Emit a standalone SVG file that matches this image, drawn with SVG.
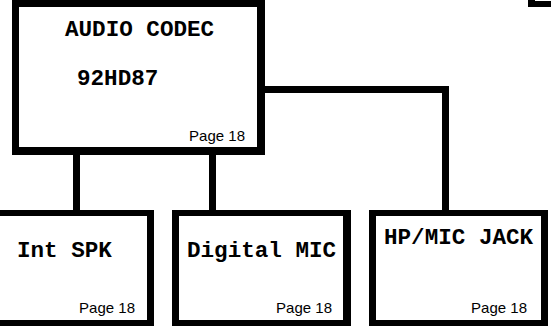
<svg xmlns="http://www.w3.org/2000/svg" width="551" height="326" viewBox="0 0 551 326">
<style>
.outer{fill:#000}
.inner{fill:#fff}
.t{font-family:"Liberation Mono","Courier New",monospace;font-weight:bold;font-size:22.6px;fill:#000}
.p{font-family:"Liberation Sans",Arial,sans-serif;font-size:15px;fill:#000;text-anchor:end}
.c{fill:none;stroke:#000;stroke-width:7}
</style>
<g id="connectors">
<path class="c" d="M76.5 155V211"/>
<path class="c" d="M212.5 155V211"/>
<path class="c" d="M264 89.5H445.5V211"/>
</g>
<g id="corner-box">
<rect class="outer" x="528" y="-100" width="40" height="107"/>
<rect class="inner" x="535" y="-100" width="40" height="101"/>
</g>
<g id="audio-codec">
<rect class="outer" x="12" y="-2" width="253" height="157"/>
<rect class="inner" x="19" y="7" width="238" height="140"/>
<text class="t" x="65" y="36">AUDIO CODEC</text>
<text class="t" x="77" y="85">92HD87</text>
<text class="p" x="245" y="141">Page 18</text>
</g>
<g id="int-spk">
<rect class="outer" x="-10" y="210" width="164" height="120"/>
<rect class="inner" x="-3" y="216" width="150" height="104"/>
<text class="t" x="17" y="257">Int SPK</text>
<text class="p" x="135" y="313">Page 18</text>
</g>
<g id="digital-mic">
<rect class="outer" x="172" y="210" width="179" height="120"/>
<rect class="inner" x="179" y="216" width="164" height="104"/>
<text class="t" x="187" y="257">Digital MIC</text>
<text class="p" x="332" y="313">Page 18</text>
</g>
<g id="hp-mic-jack">
<rect class="outer" x="369" y="210" width="179" height="120"/>
<rect class="inner" x="376" y="216" width="165" height="104"/>
<text class="t" x="384" y="244">HP/MIC JACK</text>
<text class="p" x="527" y="313">Page 18</text>
</g>
</svg>
